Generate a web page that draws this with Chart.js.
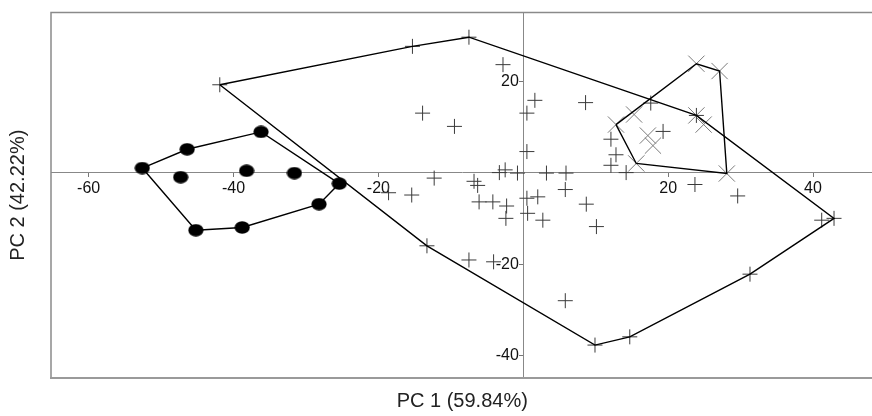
<!DOCTYPE html>
<html>
<head>
<meta charset="utf-8">
<script src="https://cdn.jsdelivr.net/npm/chart.js@4/dist/chart.umd.min.js"></script>
<style>
  html, body { margin: 0; padding: 0; background: #fff; overflow: hidden; }
  #wrap { width: 886px; height: 416px; position: relative; }
</style>
</head>
<body>
<div id="wrap"><canvas id="c"></canvas></div>
<script>
// ---- data (PC1, PC2 scores) ----
const circlePoints = [[-52.6,1.0],[-46.4,5.1],[-36.2,8.9],[-25.4,-2.4],[-28.2,-6.9],[-38.8,-12.0],[-45.2,-12.6],
                      [-47.3,-1.0],[-38.2,0.4],[-31.6,-0.1]];
const circleHull = [0,1,2,3,4,5,6,0];

const plusPoints = [[-41.9,19.2],[-15.3,27.6],[-7.5,29.6],[23.9,12.5],[42.9,-10.0],[31.3,-22.2],[14.7,-35.9],[9.9,-37.7],[-13.3,-16.0],
  [-13.9,13.0],[-9.5,10.1],[-12.3,-1.2],[-18.6,-4.4],[-15.4,-4.9],[-2.8,23.6],[1.6,15.8],[0.5,13.0],[8.6,15.3],[17.6,15.2],
  [0.5,4.6],[12.1,7.3],[19.3,9.0],[12.8,3.9],[12.1,1.6],[14.2,0.0],[-3.3,0.0],[-2.5,0.6],[-0.8,-0.1],[3.2,-0.1],[5.9,-0.1],
  [-6.8,-1.9],[-6.3,-2.8],[23.7,-2.6],[29.6,-5.1],[5.8,-3.7],[2.0,-5.3],[0.5,-5.6],[-6.1,-6.4],[-4.2,-6.4],[-2.3,-7.3],
  [-2.4,-10.0],[0.6,-8.9],[2.7,-10.4],[8.7,-6.9],[10.1,-11.8],[-7.5,-19.1],[-4.1,-19.5],[5.8,-28.0],[41.2,-10.4]];
const plusHull = [0,1,2,3,4,5,6,7,8,0];

const crossPoints = [[12.8,10.5],[23.9,23.8],[27.1,22.2],[28.1,-0.2],[15.6,2.0],
  [15.3,12.7],[23.9,12.5],[24.9,10.5],[17.2,8.1],[17.9,5.9]];
const crossHull = [0,1,2,3,4,0];

const xTicks = [-60,-40,-20,20,40];
const yTicks = [20,-20,-40];
const xTitle = 'PC 1 (59.84%)';
const yTitle = 'PC 2 (42.22%)';

// ---- helpers ----
const toXY = arr => arr.map(p => ({x: p[0], y: p[1]}));
const hullXY = (pts, idx) => idx.map(i => ({x: pts[i][0], y: pts[i][1]}));

// ellipse marker
const ell = document.createElement('canvas');
ell.width = 16; ell.height = 13;
(function(){
  const g = ell.getContext('2d');
  g.fillStyle = '#000';
  g.beginPath();
  g.ellipse(8, 6.5, 7.6, 6.2, 0, 0, Math.PI * 2);
  g.fill();
})();

const framePlugin = {
  id: 'frame',
  beforeDatasetsDraw(chart) {
    const a = chart.chartArea, ctx = chart.ctx;
    ctx.save();
    ctx.strokeStyle = '#8a8a8a';
    ctx.lineWidth = 1.5;
    ctx.beginPath();
    ctx.moveTo(a.right + 5, a.top);
    ctx.lineTo(a.left, a.top);
    ctx.lineTo(a.left, a.bottom);
    ctx.stroke();
    ctx.strokeStyle = '#9a9a9a';
    ctx.lineWidth = 2;
    ctx.beginPath();
    ctx.moveTo(a.left - 1, a.bottom);
    ctx.lineTo(a.right + 5, a.bottom);
    ctx.stroke();
    ctx.restore();
  }
};

const tickFont = {family: '"Liberation Sans", Arial, sans-serif', size: 16};

new Chart(document.getElementById('c'), {
  type: 'scatter',
  data: {
    datasets: [
      {data: hullXY(circlePoints, circleHull), showLine: true, borderColor: '#000', borderWidth: 1.4, pointRadius: 0, fill: false, tension: 0, order: 1},
      {data: hullXY(plusPoints, plusHull), showLine: true, borderColor: '#000', borderWidth: 1.4, pointRadius: 0, fill: false, tension: 0, order: 1},
      {data: hullXY(crossPoints, crossHull), showLine: true, borderColor: '#000', borderWidth: 1.4, pointRadius: 0, fill: false, tension: 0, order: 1},
      {data: toXY(circlePoints), pointStyle: ell, pointRadius: 7, order: 2},
      {data: toXY(plusPoints), pointStyle: 'cross', pointRadius: 7.5, borderColor: '#3a3a3a', borderWidth: 1, order: 2},
      {data: toXY(crossPoints), pointStyle: 'crossRot', pointRadius: 11.5, borderColor: '#7a7a7a', borderWidth: 1, order: 2}
    ]
  },
  options: {
    responsive: true,
    maintainAspectRatio: false,
    animation: false,
    layout: {padding: {top: 12, right: 0, bottom: 0, left: 0}},
    plugins: {
      legend: {display: false},
      tooltip: {enabled: false},
      title: {
        display: true, text: xTitle, position: 'bottom', fullSize: false,
        color: '#222', font: {family: '"Liberation Sans", Arial, sans-serif', size: 20, weight: 'normal'},
        padding: {top: 11, bottom: 3}
      },
      subtitle: {
        display: true, text: yTitle, position: 'left', fullSize: false,
        color: '#222', font: {family: '"Liberation Sans", Arial, sans-serif', size: 20, weight: 'normal'},
        padding: {top: 6, bottom: 21}
      }
    },
    scales: {
      x: {
        type: 'linear', min: -65.2, max: 48.35,
        position: {y: 0},
        grid: {display: true, drawOnChartArea: false, drawTicks: true, tickLength: 4, color: '#777'},
        border: {display: true, color: '#888', width: 1},
        afterBuildTicks: s => { s.ticks = xTicks.map(v => ({value: v})); },
        ticks: {font: tickFont, color: '#111', padding: 2, maxRotation: 0, callback: v => String(v)}
      },
      y: {
        type: 'linear', min: -44.9, max: 35.0,
        position: {x: 0},
        grid: {display: true, drawOnChartArea: false, drawTicks: true, tickLength: 4, color: '#777'},
        border: {display: true, color: '#888', width: 1},
        afterBuildTicks: s => { s.ticks = yTicks.map(v => ({value: v})); },
        ticks: {font: tickFont, color: '#111', padding: 2, callback: v => String(v) + ' '}
      }
    }
  },
  plugins: [framePlugin]
});
</script>
</body>
</html>
